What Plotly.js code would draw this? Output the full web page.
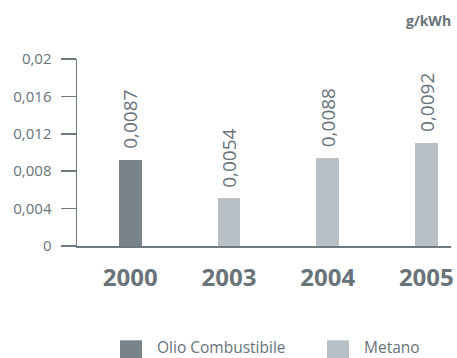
<!DOCTYPE html>
<html><head><meta charset="utf-8">
<script src="https://cdn.plot.ly/plotly-3.0.1.min.js"></script>
<style>html,body{margin:0;padding:0;background:#fff}#chart{width:457px;height:358px}</style>
</head><body><div id="chart"></div>
<script>
const years = ['2000', '2003', '2004', '2005'];
const barValues = [0.0092, 0.0051, 0.0094, 0.0110];
const labelTexts = ['0,0087', '0,0054', '0,0088', '0,0092'];
const fuelOfBar = ['Olio Combustibile', 'Metano', 'Metano', 'Metano'];
const seriesNames = ['Olio Combustibile', 'Metano'];
const seriesColors = ['#78838a', '#b8bfc5'];
const yTickVals = [0, 0.004, 0.008, 0.012, 0.016, 0.02];
const yTickText = ['0', '0,004', '0,008', '0,012', '0,016', '0,02'];
const unitLabel = 'g/kWh';

const txt = '#68737a';
const font = 'Open Sans, sans-serif';

const traces = seriesNames.map((name, si) => {
  const xs = [], ys = [];
  years.forEach((y, i) => { if (fuelOfBar[i] === name) { xs.push(y); ys.push(barValues[i]); } });
  return { type: 'bar', name: name, x: xs, y: ys, width: 0.23,
    marker: { color: seriesColors[si], line: { width: 0 } }, showlegend: false, hoverinfo: 'none' };
});

const annotations = years.map((y, i) => ({
  x: i, y: barValues[i], xref: 'x', yref: 'y', text: labelTexts[i], showarrow: false,
  textangle: -90, xanchor: 'center', yanchor: 'bottom', yshift: 9,
  font: { family: font, size: 19, color: txt }
}));
annotations.push({ x: 1, y: 1, xref: 'paper', yref: 'paper', text: '<b>' + unitLabel + '</b>',
  showarrow: false, xanchor: 'right', yanchor: 'bottom', xshift: 2, yshift: 27,
  font: { family: font, size: 14, color: txt } });

const legendX = [120, 327];
const shapes = [];
seriesNames.forEach((name, si) => {
  shapes.push({ type: 'rect', xref: 'paper', yref: 'paper',
    x0: (legendX[si] - 77) / 374, x1: (legendX[si] + 22 - 77) / 374,
    y0: -(358 - 246) / 186.4 - 0.01, y1: -(340 - 246) / 186.4,
    fillcolor: seriesColors[si], line: { width: 0 } });
  annotations.push({ x: (legendX[si] + 35 - 77) / 374, y: -(347 - 246) / 186.4, xref: 'paper', yref: 'paper',
    text: name, showarrow: false, xanchor: 'left', yanchor: 'middle',
    font: { family: font, size: 15.5, color: txt } });
});

const layout = {
  width: 457, height: 358,
  margin: { l: 77, r: 6, t: 59, b: 112, pad: 0 },
  paper_bgcolor: '#fff', plot_bgcolor: '#fff',
  font: { family: font, color: txt },
  xaxis: { type: 'category', range: [-0.54, 3.25], showline: true, linecolor: '#6e7a82', linewidth: 1.5,
    ticks: '', showgrid: false, zeroline: false, ticklabelstandoff: 10,
    tickfont: { family: font, size: 24, color: txt, weight: 'bold' } },
  yaxis: { range: [0, 0.02], tickvals: yTickVals, ticktext: yTickText, showline: true, linecolor: '#6e7a82',
    linewidth: 1.5, ticks: 'outside', ticklen: 15, tickcolor: '#6e7a82', tickwidth: 1.5, showgrid: false,
    zeroline: false, ticklabelstandoff: 6, tickfont: { family: font, size: 15, color: txt } },
  bargap: 0, annotations: annotations, shapes: shapes, showlegend: false
};
Plotly.newPlot('chart', traces, layout, { displayModeBar: false, staticPlot: true });
</script></body></html>
